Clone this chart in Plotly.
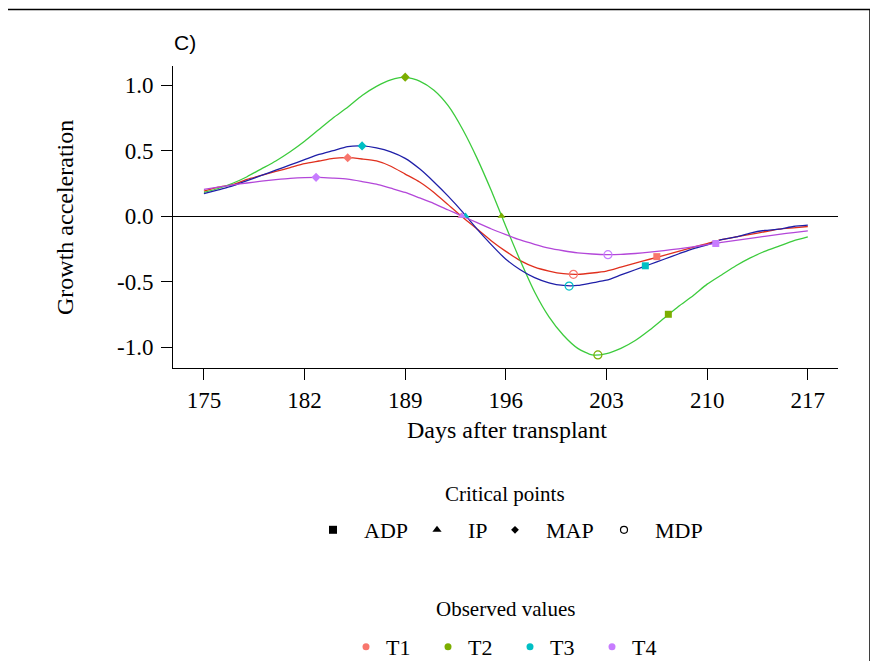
import plotly.graph_objects as go

# ---------------- data ----------------
days = list(range(175, 218))

t1_acc = [0.19, 0.22, 0.24, 0.28, 0.31, 0.34, 0.37, 0.40, 0.42, 0.44,
          0.445, 0.435, 0.42, 0.38, 0.32, 0.26, 0.18, 0.085, -0.01, -0.10,
          -0.19, -0.27, -0.34, -0.39, -0.42, -0.44, -0.445, -0.435, -0.42, -0.39,
          -0.36, -0.33, -0.30, -0.27, -0.24, -0.21, -0.18, -0.16, -0.14, -0.12,
          -0.10, -0.09, -0.08]
t2_acc = [0.18, 0.21, 0.25, 0.30, 0.36, 0.42, 0.49, 0.57, 0.66, 0.75,
          0.83, 0.92, 0.99, 1.04, 1.06, 1.03, 0.96, 0.84, 0.66, 0.44,
          0.19, -0.08, -0.34, -0.58, -0.77, -0.91, -1.01, -1.06, -1.05, -1.01,
          -0.95, -0.87, -0.78, -0.69, -0.61, -0.52, -0.45, -0.38, -0.32, -0.27,
          -0.23, -0.19, -0.16]
t3_acc = [0.17, 0.20, 0.23, 0.27, 0.31, 0.35, 0.39, 0.43, 0.47, 0.50,
          0.53, 0.535, 0.52, 0.49, 0.44, 0.36, 0.26, 0.15, 0.03, -0.10,
          -0.22, -0.33, -0.41, -0.47, -0.51, -0.53, -0.53, -0.51, -0.49, -0.45,
          -0.41, -0.37, -0.33, -0.29, -0.25, -0.22, -0.18, -0.16, -0.13, -0.11,
          -0.10, -0.08, -0.07]
t4_acc = [0.204, 0.220, 0.237, 0.252, 0.266, 0.277, 0.287, 0.293, 0.295, 0.289,
          0.281, 0.263, 0.243, 0.212, 0.180, 0.138, 0.095, 0.046, -0.002, -0.051,
          -0.099, -0.142, -0.183, -0.216, -0.245, -0.265, -0.281, -0.290, -0.295, -0.293,
          -0.286, -0.276, -0.264, -0.250, -0.235, -0.219, -0.202, -0.186, -0.170, -0.155,
          -0.140, -0.126, -0.114]

treatments = ["T1", "T2", "T3", "T4"]

# critical points per treatment (T1..T4)
map_x = [185.0, 189.0, 186.0, 182.8]
map_y = [0.445, 1.06, 0.535, 0.295]
ip_x = [192.9, 195.7, 193.2, 192.95]
ip_y = [0.0, 0.0, 0.0, 0.0]
mdp_x = [200.7, 202.4, 200.4, 203.1]
mdp_y = [-0.445, -1.06, -0.535, -0.295]
adp_x = [206.5, 207.3, 205.7, 210.6]
adp_y = [-0.31, -0.75, -0.38, -0.21]

x_ticks = [175, 182, 189, 196, 203, 210, 217]
y_ticks = [-1.0, -0.5, 0.0, 0.5, 1.0]
y_ticktext = ["-1.0", "-0.5", "0.0", "0.5", "1.0"]

cp_names = ["ADP", "IP", "MAP", "MDP"]

# ---------------- styles ----------------
line_colors = ["#E0301E", "#3CCB3C", "#1F1FA8", "#B347D9"]
point_colors = ["#F8766D", "#7CAE00", "#00BFC4", "#C77CFF"]
SERIF = "Liberation Serif"

W, H = 878, 661
PAGE = 8                          # page body margin offset on screen
SL, SR, ST, SB = 173, 838, 66, 368   # plot area, screen pixels


def px_x(p):
    return (p - SL) / (SR - SL)


def px_y(p):
    return (SB - p) / (SB - ST)


fig = go.Figure()

series = [t1_acc, t2_acc, t3_acc, t4_acc]
for i, ys in enumerate(series):
    fig.add_trace(go.Scatter(
        x=days, y=ys, mode="lines", showlegend=False,
        line=dict(color=line_colors[i], width=1.3, shape="spline", smoothing=0.6),
        hoverinfo="skip"))

cp_sets = [
    (adp_x, adp_y, dict(symbol="square", size=7)),
    (ip_x, ip_y, dict(symbol="triangle-up", size=7)),
    (map_x, map_y, dict(symbol="diamond", size=7)),
    (mdp_x, mdp_y, dict(symbol="circle-open", size=8, line=dict(width=1.2))),
]
for xs, ys, mk in cp_sets:
    for i in range(len(treatments)):
        m = dict(mk)
        m["color"] = point_colors[i]
        fig.add_trace(go.Scatter(x=[xs[i]], y=[ys[i]], mode="markers",
                                 marker=m, showlegend=False))

# legend 1: critical points (black symbols)
legend_syms = [dict(symbol="square", size=8), dict(symbol="triangle-up", size=8),
               dict(symbol="diamond", size=6),
               dict(symbol="circle-open", size=7, line=dict(width=1.2))]
cp_widths = [59, 33, 64, 60]
for name, mk, wd in zip(cp_names, legend_syms, cp_widths):
    m = dict(mk)
    m["color"] = "black"
    fig.add_trace(go.Scatter(x=[None], y=[None], mode="markers", marker=m,
                             name="\u00a0\u00a0" + name, legend="legend",
                             legendwidth=wd))

# legend 2: observed values
for i, name in enumerate(treatments):
    fig.add_trace(go.Scatter(x=[None], y=[None], mode="markers",
                             marker=dict(symbol="circle", size=7, color=point_colors[i]),
                             name=name, legend="legend2", legendwidth=37))

axis_font = dict(family=SERIF, size=23, color="black")

fig.update_layout(
    width=W, height=H,
    margin=dict(l=SL - PAGE, r=W - (SR - PAGE), t=ST - PAGE, b=H - (SB - PAGE),
                autoexpand=False),
    paper_bgcolor="white", plot_bgcolor="white",
    showlegend=True,
    xaxis=dict(range=[172.85, 219.1], tickmode="array", tickvals=x_ticks,
               showline=True, linecolor="black", linewidth=1,
               ticks="outside", ticklen=11, tickwidth=1, tickcolor="black",
               showgrid=False, zeroline=False, tickfont=axis_font),
    yaxis=dict(range=[-1.16, 1.145], tickmode="array", tickvals=y_ticks,
               ticktext=y_ticktext,
               showline=True, linecolor="black", linewidth=1,
               ticks="outside", ticklen=11, tickwidth=1, tickcolor="black",
               showgrid=False, zeroline=True, zerolinecolor="black",
               zerolinewidth=1, tickfont=axis_font, ticklabelstandoff=3),
    legend=dict(orientation="h", x=px_x(511), xanchor="center",
                y=px_y(509), yanchor="top",
                font=dict(family=SERIF, size=22, color="black"),
                bgcolor="rgba(0,0,0,0)"),
    legend2=dict(orientation="h", x=px_x(510), xanchor="center",
                 y=px_y(626), yanchor="top",
                 font=dict(family=SERIF, size=22, color="black"),
                 bgcolor="rgba(0,0,0,0)"),
    annotations=[
        dict(text="C)", xref="paper", yref="paper", x=px_x(172), y=px_y(43),
             xanchor="left", yanchor="middle", showarrow=False,
             font=dict(family="Liberation Sans", size=21, color="black")),
        dict(text="Growth acceleration", xref="paper", yref="paper",
             x=px_x(65), y=px_y(217), xanchor="center", yanchor="middle",
             textangle=-90, showarrow=False,
             font=dict(family=SERIF, size=24, color="black")),
        dict(text="Days after transplant", xref="paper", yref="paper",
             x=px_x(507), y=px_y(430), xanchor="center", yanchor="middle",
             showarrow=False, font=dict(family=SERIF, size=24, color="black")),
        dict(text="Critical points", xref="paper", yref="paper",
             x=px_x(505), y=px_y(494), xanchor="center", yanchor="middle",
             showarrow=False, font=dict(family=SERIF, size=21, color="black")),
        dict(text="Observed values", xref="paper", yref="paper",
             x=px_x(505), y=px_y(609), xanchor="center", yanchor="middle",
             showarrow=False, font=dict(family=SERIF, size=21, color="black")),
    ],
    shapes=[
        dict(type="rect", xref="paper", yref="paper",
             x0=px_x(7), x1=px_x(870), y0=px_y(700), y1=px_y(9.5),
             line=dict(color="black", width=1.5), fillcolor="rgba(0,0,0,0)",
             layer="above"),
    ],
)

fig.write_html("out.html")
